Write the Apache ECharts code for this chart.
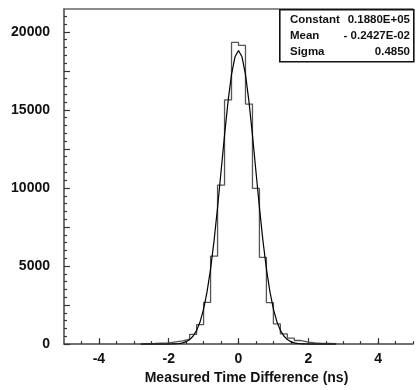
<!DOCTYPE html>
<html>
<head>
<meta charset="utf-8">
<script src="https://cdn.jsdelivr.net/npm/echarts@6/dist/echarts.min.js"></script>
<style>html,body{margin:0;padding:0;background:#fff}#c{width:417px;height:390px}</style>
</head>
<body>
<div id="c"></div>
<script>
// Histogram bin edges (ns) and counts per bin
const binEdges = [-2.8,-2.6,-2.4,-2.2,-2.0,-1.8,-1.6,-1.4,-1.2,-1.0,-0.8,-0.6,-0.4,-0.2,0.0,
                  0.2,0.4,0.6,0.8,1.0,1.2,1.4,1.6,1.8,2.0,2.2,2.4,2.6,2.8];
const binCounts = [30,40,60,80,140,200,320,620,1250,2670,5630,10180,15640,19320,
                   19130,15370,9970,5550,2650,1290,650,380,230,120,70,50,40,30];
// Fitted curve
const fitX = [-2.8,-2.7,-2.6,-2.5,-2.4,-2.3,-2.2,-2.1,-2.0,-1.9,-1.8,-1.7,-1.6,-1.5,-1.4,-1.3,-1.2,-1.1,-1.0,
              -0.9,-0.8,-0.7,-0.6,-0.5,-0.4,-0.3,-0.2,-0.1,0.0,0.1,0.2,0.3,0.4,0.5,0.6,0.7,0.8,0.9,
              1.0,1.1,1.2,1.3,1.4,1.5,1.6,1.7,1.8,1.9,2.0,2.1,2.2,2.3,2.4,2.5,2.6,2.7,2.8];
const fitY = [0,0,0,0,0,1,1,2,4,9,19,40,81,157,291,518,880,1436,2240,
              3360,4820,6630,8750,11050,13380,15530,17270,18400,18800,18400,17270,15530,13380,11050,8750,6630,4820,3360,
              2240,1436,880,518,291,157,81,40,19,9,4,2,1,1,0,0,0,0,0];
// Tick labels
const xLabelTicks = [-4,-2,0,2,4];
const xMinorTicks = [-4.5,-4,-3.5,-3,-2.5,-2,-1.5,-1,-0.5,0,0.5,1,1.5,2,2.5,3,3.5,4,4.5,5];
const yLabelTicks = [0,5000,10000,15000,20000];
const yMajorTicks = [0,2500,5000,7500,10000,12500,15000,17500,20000];
const yMinorTicks = [500,1000,1500,2000,3000,3500,4000,4500,5500,6000,6500,7000,8000,8500,9000,9500,
                     10500,11000,11500,12000,13000,13500,14000,14500,15500,16000,16500,17000,
                     18000,18500,19000,19500,20500,21000];
const xTitle = 'Measured Time Difference (ns)';
// Fit statistics box
const statNames = ['Constant','Mean','Sigma'];
const statValues = ['0.1880E+05','- 0.2427E-02','0.4850'];

const FONT = '"Liberation Sans", Arial, sans-serif';
const histData = binEdges.map((e, i) => [e, i < binCounts.length ? binCounts[i] : binCounts[binCounts.length - 1]]);
histData.push([binEdges[binEdges.length - 1], 0]);
histData.unshift([binEdges[0], 0]);
const fitData = fitX.map((x, i) => [x, fitY[i]]);

const chart = echarts.init(document.getElementById('c'), null, {renderer: 'canvas'});
const statGraphics = [{
  type: 'rect', left: 279, top: 9, z: 100,
  shape: {width: 134, height: 52},
  style: {fill: '#fff', stroke: '#111', lineWidth: 1.6}
}];
statNames.forEach((n, i) => {
  statGraphics.push({type: 'text', left: 290, top: 14 + i * 16, z: 101,
    style: {text: n, font: 'bold 11.5px ' + FONT, fill: '#111'}});
  statGraphics.push({type: 'text', right: 7, top: 14 + i * 16, z: 101,
    style: {text: statValues[i], font: 'bold 11.5px ' + FONT, fill: '#111', textAlign: 'right'}});
});

chart.setOption({
  animation: false,
  grid: {left: 64, right: 4, top: 9, bottom: 43},
  xAxis: [{
    type: 'value', min: -5, max: 5, position: 'bottom',
    axisLine: {show: true, onZero: false, lineStyle: {color: '#444', width: 1.5}},
    axisTick: {show: true, inside: true, length: 6, customValues: xLabelTicks, lineStyle: {color: '#333', width: 1.2}},
    axisLabel: {show: true, customValues: xLabelTicks, margin: 8, color: '#111', fontFamily: FONT, fontWeight: 'bold', fontSize: 14,
                formatter: v => String(v)},
    splitLine: {show: false},
    name: xTitle, nameLocation: 'middle', nameGap: 26,
    nameTextStyle: {color: '#111', fontFamily: FONT, fontWeight: 'bold', fontSize: 14, padding: [0, 0, 0, 16]}
  }, {
    type: 'value', min: -5, max: 5, position: 'bottom',
    axisLine: {show: false, onZero: false},
    axisTick: {show: true, inside: true, length: 3, customValues: xMinorTicks, lineStyle: {color: '#333', width: 1.2}},
    axisLabel: {show: false}, splitLine: {show: false}
  }, {
    type: 'value', min: -5, max: 5, position: 'top',
    axisLine: {show: true, onZero: false, lineStyle: {color: '#666', width: 1.5}},
    axisTick: {show: false}, axisLabel: {show: false}, splitLine: {show: false}
  }],
  yAxis: [{
    type: 'value', min: 0, max: 21460, position: 'left',
    axisLine: {show: true, onZero: false, lineStyle: {color: '#444', width: 1.5}},
    axisTick: {show: true, inside: true, length: 6, customValues: yMajorTicks, lineStyle: {color: '#333', width: 1.2}},
    axisLabel: {show: true, customValues: yLabelTicks, margin: 14, color: '#111', fontFamily: FONT, fontWeight: 'bold', fontSize: 14,
                formatter: v => String(v)},
    splitLine: {show: false}
  }, {
    type: 'value', min: 0, max: 21460, position: 'left',
    axisLine: {show: false, onZero: false},
    axisTick: {show: true, inside: true, length: 3, customValues: yMinorTicks, lineStyle: {color: '#333', width: 1.2}},
    axisLabel: {show: false}, splitLine: {show: false}
  }],
  series: [{
    type: 'line', xAxisIndex: 0, yAxisIndex: 0, step: 'end', data: histData,
    symbol: 'none', lineStyle: {color: '#555', width: 1.3}, z: 2
  }, {
    type: 'line', xAxisIndex: 0, yAxisIndex: 0, data: fitData,
    symbol: 'none', smooth: false, lineStyle: {color: '#000', width: 1.2}, z: 3
  }],
  graphic: statGraphics
});
</script>
</body>
</html>
